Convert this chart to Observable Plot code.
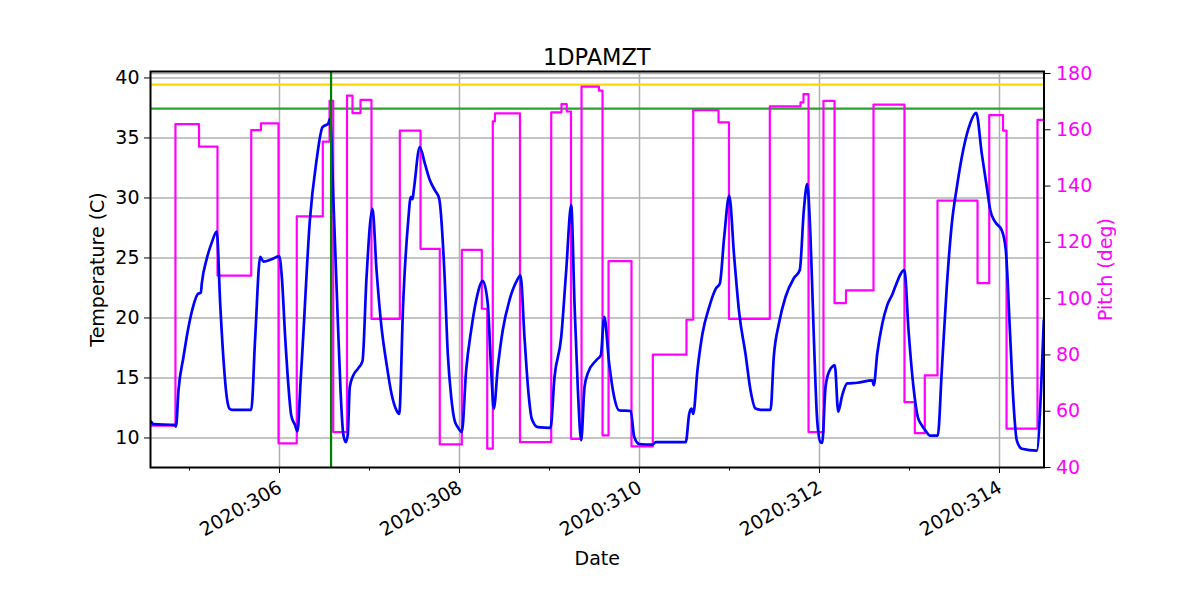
<!DOCTYPE html>
<html><head><meta charset="utf-8">
<script src="https://cdn.jsdelivr.net/npm/d3@7"></script>
<script src="https://cdn.jsdelivr.net/npm/@observablehq/plot@0.6"></script>
<style>
body{margin:0;background:#fff;font-family:"DejaVu Sans",sans-serif;}
#title{width:1193.5px;height:22px;padding-top:46px;font-size:22.5px;line-height:22px;text-align:center;color:#000;}
</style></head><body>
<div id="title">1DPAMZT</div>
<div id="chart"></div>
<script>
// Temperature (1DPAMZT, C) vs day of year 2020
const tempDay = [304.574,304.600,304.833,304.850,304.878,304.933,304.989,305.044,305.092,305.126,305.137,305.192,305.248,305.303,305.341,305.378,305.414,305.444,305.470,305.686,305.730,305.786,305.822,305.914,305.997,306.026,306.063,306.100,306.130,306.174,306.200,306.233,306.263,306.337,306.411,306.478,306.541,306.561,306.603,306.641,306.678,306.708,306.737,306.759,306.781,306.819,306.874,306.922,306.967,307.033,307.078,307.133,307.189,307.244,307.300,307.330,307.374,307.430,307.459,307.478,307.492,307.559,307.614,307.670,307.726,307.774,307.833,307.870,307.908,307.944,307.981,308.026,308.074,308.130,308.186,308.259,308.314,308.352,308.381,308.426,308.481,308.556,308.630,308.678,308.722,308.767,308.803,308.870,309.011,309.056,309.130,309.186,309.241,309.278,309.314,309.352,309.389,309.426,309.522,309.570,309.608,309.663,309.719,309.774,309.903,309.941,309.997,310.144,310.181,310.514,310.552,310.578,310.597,310.644,310.700,310.774,310.848,310.892,310.941,310.997,311.052,311.108,311.178,311.233,311.289,311.344,311.456,311.492,311.548,311.622,311.714,311.781,311.826,311.863,311.900,311.937,311.974,312.011,312.030,312.067,312.114,312.170,312.208,312.252,312.308,312.419,312.586,312.603,312.641,312.697,312.752,312.811,312.841,312.944,312.989,313.044,313.092,313.137,313.174,313.230,313.314,313.359,313.414,313.470,313.526,313.581,313.656,313.741,313.803,313.859,313.897,313.952,314.026,314.070,314.119,314.156,314.192,314.248,314.414,314.463,314.492];
const tempVal = [11.35,11.15,11.1,10.95,14.0,16.75,19.25,21.05,22.0,22.1,22.9,24.95,26.3,27.2,21.2,16.5,13.4,12.45,12.35,12.35,18.4,25.1,24.7,24.9,25.15,23.4,18.4,14.25,11.9,11.05,10.55,14.5,18.4,28.1,33.1,35.9,36.2,36.6,29.0,21.2,14.0,10.35,9.65,10.3,14.25,15.2,15.8,16.4,23.4,29.1,24.0,19.25,16.2,13.7,12.3,12.0,21.2,28.1,30.1,29.9,30.65,34.25,32.9,31.5,30.65,29.95,23.7,17.0,13.4,11.5,10.9,10.5,15.65,19.0,21.5,23.1,21.2,15.6,12.45,15.9,19.0,21.5,23.0,23.55,18.4,13.7,11.6,10.9,10.85,15.1,18.4,24.0,29.4,21.2,14.25,9.8,14.25,15.4,16.5,16.9,20.1,16.2,13.4,12.3,12.25,10.1,9.5,9.45,9.65,9.65,12.0,12.45,12.0,15.65,18.7,20.9,22.45,22.85,26.75,30.2,25.1,20.4,17.0,14.0,12.45,12.35,12.35,16.75,19.5,21.75,23.3,24.0,29.0,31.15,26.75,18.4,11.5,9.65,9.6,14.25,15.65,16.05,12.2,13.55,14.55,14.6,14.8,14.4,17.0,19.5,21.05,22.0,22.6,24.0,19.0,14.25,11.75,11.05,10.65,10.2,10.2,15.65,22.6,27.85,30.9,33.4,35.8,37.1,33.7,30.9,29.0,28.0,27.3,25.65,18.4,12.85,9.8,9.1,8.95,14.25,19.8];

// Pitch (deg), step changes
const pitchDay = [304.574,304.844,305.106,305.311,305.686,305.794,305.989,306.192,306.481,306.556,306.597,306.750,306.811,306.900,307.022,307.337,307.567,307.781,308.026,308.248,308.308,308.370,308.394,308.672,309.019,309.133,309.192,309.239,309.356,309.550,309.589,309.656,309.911,310.148,310.522,310.597,310.878,310.994,311.448,311.789,311.822,311.878,312.044,312.167,312.294,312.600,312.944,313.059,313.170,313.311,313.756,313.886,314.039,314.078,314.422,314.494];
const pitchVal = [54.9,162.0,154.0,108.2,159.9,162.3,48.6,129.2,155.8,170.3,52.6,172.1,165.9,170.6,92.8,159.7,117.7,48.2,117.3,96.4,46.7,163.0,165.8,49.0,166.2,169.1,166.5,50.2,175.3,173.9,51.4,113.3,47.5,80.1,92.5,167.0,162.6,92.8,168.3,169.7,172.7,52.6,170.3,98.4,102.9,168.9,63.2,52.2,72.7,134.8,105.5,165.2,159.7,53.8,163.5,163.5];

// Reference lines
const yellowLimitT = 39.45;
const greenLimitT = 37.45;
const pitchTopLine = 180;
const markerDay = 306.573;

// Axes
const xDomain = [304.5667, 314.4944];
const tempDomain = [7.54, 40.54];
const pitchDomain = [40, 180];
const pitchInTemp = [7.54, 40.375];
const tempTicks = [10, 15, 20, 25, 30, 35, 40];
const pitchTicks = [40, 60, 80, 100, 120, 140, 160, 180];
const majorDays = [306, 308, 310, 312, 314];
const minorDays = [305, 307, 309, 311, 313];
const dayLabel = d => `2020:${d}`;

const pitchToT = d3.scaleLinear().domain(pitchDomain).range(pitchInTemp);
const temp = tempDay.map((d, i) => ({day: d, t: tempVal[i]}));
const pitch = pitchDay.map((d, i) => ({day: d, p: pitchVal[i]}));

const FS = 19;
const chart = Plot.plot({
  width: 1200, height: 532,
  marginTop: 3, marginBottom: 133, marginLeft: 150, marginRight: 156.5,
  style: {fontFamily: "DejaVu Sans", fontSize: "19px", color: "black", background: "white", overflow: "visible"},
  x: {domain: xDomain},
  y: {domain: tempDomain},
  marks: [
    Plot.gridX(majorDays, {stroke: "#b0b0b0", strokeOpacity: 1, strokeWidth: 1.5}),
    Plot.gridY(tempTicks, {stroke: "#b0b0b0", strokeOpacity: 1, strokeWidth: 1.5}),
    Plot.ruleY([pitchToT(pitchTopLine)], {stroke: "#b0b0b0", strokeWidth: 1.5}),
    Plot.ruleY([yellowLimitT], {stroke: "#ffd700", strokeWidth: 2.2}),
    Plot.ruleY([greenLimitT], {stroke: "#2ca02c", strokeWidth: 2.2}),
    Plot.line(pitch, {x: "day", y: d => pitchToT(d.p), curve: "step-after", stroke: "#ff00ff", strokeWidth: 2.2, clip: true}),
    Plot.line(temp, {x: "day", y: "t", curve: "monotone-x", stroke: "#0000ff", strokeWidth: 2.7, clip: true}),
    Plot.ruleX([markerDay], {stroke: "#008000", strokeWidth: 2.2}),
    Plot.frame({stroke: "black", strokeWidth: 2}),
    Plot.axisY(tempTicks, {anchor: "left", tickSize: 6, tickPadding: 5, label: null, fontSize: FS}),
    Plot.axisY(pitchTicks.map(p => pitchToT(p)), {anchor: "right", tickSize: 6, fill: "none", label: null}),
    Plot.text(pitchTicks, {y: p => pitchToT(p), frameAnchor: "right", dx: 12, text: p => String(p), textAnchor: "start", fill: "#ff00ff", fontSize: FS}),
    Plot.axisX(majorDays, {anchor: "bottom", tickSize: 6, fill: "none", label: null}),
    Plot.axisX(minorDays, {anchor: "bottom", tickSize: 3.5, fill: "none", label: null}),
    Plot.text(majorDays, {x: d => d, frameAnchor: "bottom", text: dayLabel, rotate: -30, textAnchor: "end", lineAnchor: "top", dx: -3, dy: 12, fontSize: FS}),
    Plot.text(["Date"], {frameAnchor: "bottom", dy: 91, textAnchor: "middle", lineAnchor: "middle", fontSize: FS}),
    Plot.text(["Temperature (C)"], {frameAnchor: "left", dx: -53, rotate: -90, textAnchor: "middle", lineAnchor: "middle", fontSize: FS}),
    Plot.text(["Pitch (deg)"], {frameAnchor: "right", dx: 61.5, rotate: -90, textAnchor: "middle", lineAnchor: "middle", fill: "#ff00ff", fontSize: FS})
  ]
});
document.getElementById("chart").appendChild(chart);
</script></body></html>
